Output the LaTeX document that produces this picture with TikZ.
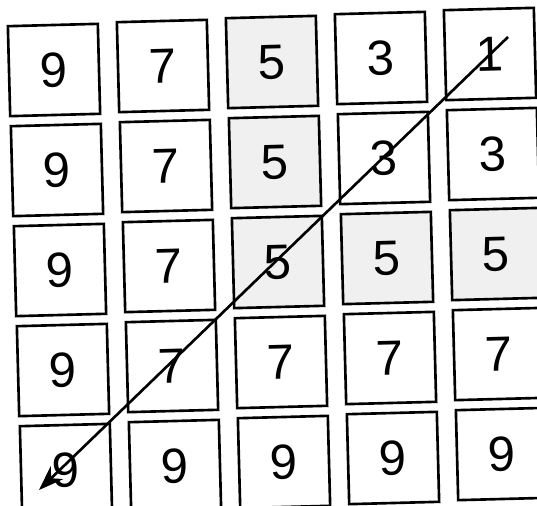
\documentclass[tikz,border=0pt]{standalone}
\usepackage{fontspec}
\setmainfont{Liberation Sans}
\usetikzlibrary{arrows.meta, calc}
\tikzset{
  >=Stealth,
  cell/.style  = {draw, line width=1.5pt, minimum size=1.8cm, inner sep=0pt,
                  font=\fontsize{28}{32}\selectfont, rotate=1.5},
  hit/.style   = {cell, fill=gray!12},
  scan/.style  = {-{Stealth[length=5mm, width=3.6mm]}, line width=1.5pt},
}

\begin{document}
\begin{tikzpicture}[x=0.02cm, y=-0.02cm]
  \useasboundingbox (0,0) rectangle (537,506);

  % =====================================================================
  % 5x5 grid of cells (value/style per cell, row by row)
  % =====================================================================
  \foreach \row [count=\j] in {
      {9/cell,7/cell,5/hit,3/cell,1/cell},
      {9/cell,7/cell,5/hit,3/cell,3/cell},
      {9/cell,7/cell,5/hit,5/hit,5/hit},
      {9/cell,7/cell,7/cell,7/cell,7/cell},
      {9/cell,9/cell,9/cell,9/cell,9/cell}}
    \foreach \v/\s [count=\i] in \row
      \node[\s] (c\j\i)
        at ({54+109*(\i-1)+3*(\j-1)}, {70+100*(\j-1)-4*(\i-1)}) {\v};

  % diagonal scan: top right -> bottom left
  \coordinate (scanstart) at ($(c15) + (18,-17)$);
  \coordinate (scanend)   at ($(c51) + (-27,20)$);
  \draw[scan] (scanstart) -- (scanend);

\end{tikzpicture}
\end{document}
